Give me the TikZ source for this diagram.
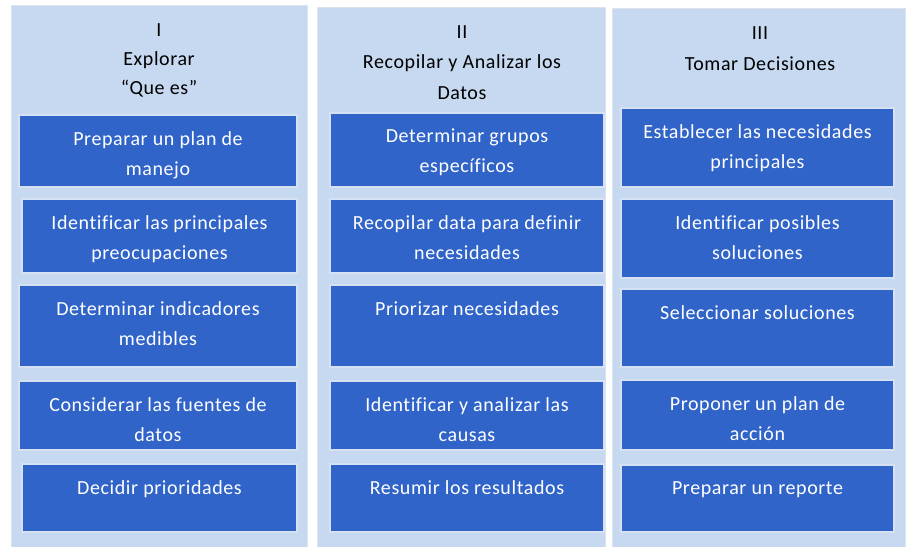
\documentclass[tikz,border=0pt]{standalone}
\usepackage{fontspec}
\setmainfont{Carlito}[LetterSpace=3, Ligatures=NoCommon]
\definecolor{panelblue}{HTML}{C6D9F0}
\definecolor{boxblue}{HTML}{3064C9}
\definecolor{boxedge}{HTML}{D6E2F4}
\definecolor{paneledge}{HTML}{DDE3EA}
\newcommand{\mkpanel}[5]{%
  \node[panel, anchor=north west, minimum width={(#4-#2)*1pt}, minimum height={(#5-#3)*1pt}] (#1) at (#2,#3) {};}
\newcommand{\mkbox}[6]{%
  \node[stepbox, anchor=north west, minimum width={(#4-#2)*1pt}, minimum height={(#5-#3)*1pt}] (#1) at (#2,#3) {};
  \node[boxtext] (#1t) at ([yshift=-16pt]#1.north) {#6};}
\begin{document}
\begin{tikzpicture}[x=1pt,y=-1pt,
  panel/.style={fill=panelblue, draw=paneledge, line width=1pt, inner sep=0pt, outer sep=0pt},
  stepbox/.style={fill=boxblue, draw=boxedge, line width=1.5pt, inner sep=0pt, outer sep=0pt},
  boxtext/.style={anchor=north, align=center, text=white, font=\fontsize{20}{30}\selectfont, inner sep=0pt},
  headtext/.style={anchor=north, align=center, text=black, font=\fontsize{20}{29}\selectfont, inner sep=0pt}]
\useasboundingbox (0,0) rectangle (907,546);
\fill[white] (0,0) rectangle (907,546);
% panels
\mkpanel{p1}{11}{5}{307}{548}
\mkpanel{p2}{317}{7}{605}{548}
\mkpanel{p3}{612}{8}{905}{548}
% headers
\node[headtext] (h1) at (159,23) {I\\Explorar\\“Que es”};
\node[headtext, font=\fontsize{20}{30.5}\selectfont] (h2) at (462,25) {II\\Recopilar y Analizar los\\Datos};
\node[headtext, font=\fontsize{20}{31}\selectfont] (h3) at (760,26) {III\\Tomar Decisiones};
% column I
\mkbox{a1}{19}{115}{297}{187}{Preparar un plan de\\manejo}
\mkbox{a2}{22}{199}{297}{273}{Identificar las principales\\preocupaciones}
\mkbox{a3}{19}{285}{297}{367}{Determinar indicadores\\medibles}
\mkbox{a4}{19}{381}{297}{450}{Considerar las fuentes de\\datos}
\mkbox{a5}{22}{464}{297}{532}{Decidir prioridades}
% column II
\mkbox{b1}{330}{113}{604}{187}{Determinar grupos\\específicos}
\mkbox{b2}{330}{199}{604}{273}{Recopilar data para definir\\necesidades}
\mkbox{b3}{330}{285}{604}{367}{Priorizar necesidades}
\mkbox{b4}{330}{381}{604}{450}{Identificar y analizar las\\causas}
\mkbox{b5}{330}{464}{604}{532}{Resumir los resultados}
% column III
\mkbox{c1}{621}{108}{894}{187}{Establecer las necesidades\\principales}
\mkbox{c2}{621}{199}{894}{278}{Identificar posibles\\soluciones}
\mkbox{c3}{621}{289}{894}{367}{Seleccionar soluciones}
\mkbox{c4}{621}{380}{894}{450}{Proponer un plan de\\acción}
\mkbox{c5}{621}{465}{894}{532}{Preparar un reporte}
\end{tikzpicture}
\end{document}
